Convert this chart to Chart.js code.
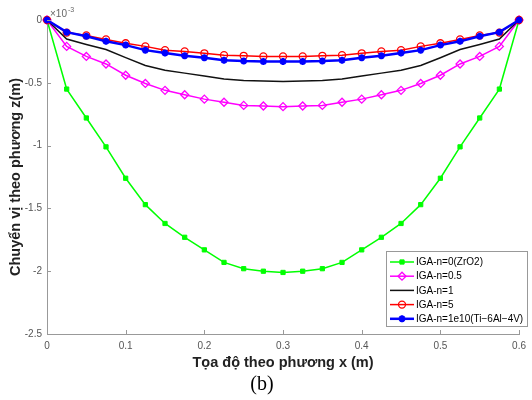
<!DOCTYPE html>
<html>
<head>
<meta charset="utf-8">
<script src="https://cdn.jsdelivr.net/npm/chart.js@4/dist/chart.umd.min.js"></script>
<style>
  body { margin: 0; background: #fff; }
  #wrap { width: 532px; height: 400px; }
</style>
</head>
<body>
<div id="wrap"><canvas id="chart" width="532" height="400"></canvas></div>
<script>
// x coordinates (m)
const xs = [0, 0.025, 0.05, 0.075, 0.1, 0.125, 0.15, 0.175, 0.2, 0.225, 0.25, 0.275, 0.3,
            0.325, 0.35, 0.375, 0.4, 0.425, 0.45, 0.475, 0.5, 0.525, 0.55, 0.575, 0.6]

// displacement z, units of 1e-3 m
const n0 = [0, -0.55, -0.78, -1.01, -1.26, -1.47, -1.62, -1.73, -1.83, -1.93, -1.98, -2.0, -2.01,
            -2.0, -1.98, -1.93, -1.83, -1.73, -1.62, -1.47, -1.26, -1.01, -0.78, -0.55, 0]
const n05 = [0, -0.21, -0.29, -0.35, -0.44, -0.505, -0.56, -0.595, -0.63, -0.655, -0.68, -0.685, -0.69,
             -0.685, -0.68, -0.655, -0.63, -0.595, -0.56, -0.505, -0.44, -0.35, -0.29, -0.21, 0]
const n1 = [0, -0.152, -0.195, -0.235, -0.30, -0.362, -0.40, -0.423, -0.445, -0.47, -0.482, -0.486, -0.49,
            -0.486, -0.482, -0.47, -0.445, -0.423, -0.40, -0.362, -0.30, -0.235, -0.195, -0.152, 0]
const n5 = [0, -0.10, -0.123, -0.155, -0.185, -0.21, -0.24, -0.25, -0.265, -0.28, -0.285, -0.29, -0.29,
            -0.29, -0.285, -0.28, -0.265, -0.25, -0.24, -0.21, -0.185, -0.155, -0.123, -0.10, 0]
const n1e10 = [0, -0.097, -0.13, -0.17, -0.20, -0.24, -0.263, -0.285, -0.30, -0.32, -0.327, -0.33, -0.33,
               -0.33, -0.327, -0.32, -0.30, -0.285, -0.263, -0.24, -0.20, -0.17, -0.13, -0.097, 0]

const xTicks = [0, 0.1, 0.2, 0.3, 0.4, 0.5, 0.6]
const yTicks = [0, -0.5, -1, -1.5, -2, -2.5]

const pts = (ys) => xs.map((x, i) => ({ x: x, y: ys[i] }))

Chart.defaults.font.family = "'Liberation Sans', Arial, sans-serif"

const series = [
  { label: 'IGA-n=0(ZrO2)', data: pts(n0), borderColor: '#00ff00', backgroundColor: '#00ff00',
    borderWidth: 1.5, pointStyle: 'rect', pointRadius: 3, pointBorderWidth: 1, order: 5 },
  { label: 'IGA-n=0.5', data: pts(n05), borderColor: '#ff00ff', backgroundColor: 'rgba(255,255,255,0)',
    borderWidth: 1.5, pointStyle: 'rectRot', pointRadius: 4, pointBorderWidth: 1.3, order: 4 },
  { label: 'IGA-n=1', data: pts(n1), borderColor: '#111', backgroundColor: '#111',
    borderWidth: 1.5, pointRadius: 0, order: 3 },
  { label: 'IGA-n=5', data: pts(n5), borderColor: '#ff0000', backgroundColor: 'rgba(255,255,255,0)',
    borderWidth: 1.5, pointStyle: 'circle', pointRadius: 3.5, pointBorderWidth: 1.3, order: 2 },
  { label: 'IGA-n=1e10(Ti\u22126Al\u22124V)', data: pts(n1e10), borderColor: '#0000ff', backgroundColor: '#0000ff',
    borderWidth: 2.5, pointStyle: 'star', pointRadius: 3.5, pointBorderWidth: 2.2, order: 1 }
]

// inward ticks, exponent label, caption, legend box
const extras = {
  id: 'extras',
  afterDraw(chart) {
    const ctx = chart.ctx
    const xs_ = chart.scales.x, ys_ = chart.scales.y
    const area = chart.chartArea
    ctx.save()
    ctx.strokeStyle = '#999'
    ctx.lineWidth = 1
    ctx.beginPath()
    xTicks.forEach(t => {
      const px = Math.round(xs_.getPixelForValue(t)) + 0.5
      ctx.moveTo(px, area.bottom); ctx.lineTo(px, area.bottom - 4)
    })
    yTicks.forEach(t => {
      const py = Math.round(ys_.getPixelForValue(t)) + 0.5
      ctx.moveTo(area.left, py); ctx.lineTo(area.left + 4, py)
    })
    ctx.stroke()

    // x10^-3
    ctx.fillStyle = '#666'
    ctx.textBaseline = 'middle'
    ctx.textAlign = 'left'
    ctx.font = "10px 'Liberation Sans', Arial, sans-serif"
    ctx.fillText('\u00d710', area.left + 3, 14)
    ctx.font = "7px 'Liberation Sans', Arial, sans-serif"
    ctx.fillText('-3', area.left + 21, 10)

    // caption
    ctx.fillStyle = '#000'
    ctx.textAlign = 'center'
    ctx.font = "20px 'Liberation Serif', 'Times New Roman', serif"
    ctx.fillText('(b)', 262, 385)

    // legend
    const lx = 386, ly = 251, lw = 142, lh = 76
    ctx.fillStyle = '#fff'
    ctx.fillRect(lx, ly, lw, lh)
    ctx.strokeStyle = '#999'
    ctx.strokeRect(lx + 0.5, ly + 0.5, lw - 1, lh - 1)
    ctx.font = "10px 'Liberation Sans', Arial, sans-serif"
    ctx.textAlign = 'left'
    series.forEach((s, i) => {
      const y = ly + 11 + i * 14.2
      ctx.strokeStyle = s.borderColor
      ctx.lineWidth = s.borderWidth
      ctx.beginPath(); ctx.moveTo(lx + 4, y); ctx.lineTo(lx + 28, y); ctx.stroke()
      if (s.pointRadius > 0) {
        ctx.fillStyle = s.backgroundColor
        ctx.lineWidth = s.pointBorderWidth
        Chart.helpers.drawPoint(ctx, { pointStyle: s.pointStyle, radius: s.pointRadius,
          borderWidth: s.pointBorderWidth, rotation: 0 }, lx + 16, y)
      }
      ctx.fillStyle = '#000'
      ctx.fillText(s.label, lx + 30, y + 0.5)
    })
    ctx.restore()
  }
}

new Chart(document.getElementById('chart'), {
  type: 'line',
  data: { datasets: series.map(s => Object.assign({ fill: false, tension: 0, clip: false }, s)) },
  options: {
    responsive: false,
    animation: false,
    layout: { padding: { top: 20, right: 12, left: 0, bottom: 0 } },
    plugins: { legend: { display: false }, tooltip: { enabled: false } },
    scales: {
      x: {
        type: 'linear', min: 0, max: 0.6,
        afterFit: (s) => { s.height = 66 },
        afterBuildTicks: (s) => { s.ticks = xTicks.map(v => ({ value: v })) },
        grid: { display: false, drawTicks: false },
        border: { display: true, color: '#999', width: 1 },
        ticks: { padding: 6, color: '#555', font: { size: 10 }, maxRotation: 0,
          callback: (v) => String(v) },
        title: { display: true, text: 'Tọa độ theo phương x (m)', color: '#222',
          font: { size: 14.5, weight: 'bold' }, padding: { top: 0, bottom: 28 } }
      },
      y: {
        type: 'linear', min: -2.5, max: 0,
        afterFit: (s) => { s.width = 47 },
        afterBuildTicks: (s) => { s.ticks = yTicks.map(v => ({ value: v })) },
        grid: { display: false, drawTicks: false },
        border: { display: true, color: '#999', width: 1 },
        ticks: { padding: 5, color: '#555', font: { size: 10 },
          callback: (v) => String(v) },
        title: { display: true, text: 'Chuyển vị theo phương z(m)', color: '#222',
          font: { size: 14.5, weight: 'bold' }, padding: { top: 7, bottom: 0 } }
      }
    }
  },
  plugins: [extras]
})
</script>
</body>
</html>
